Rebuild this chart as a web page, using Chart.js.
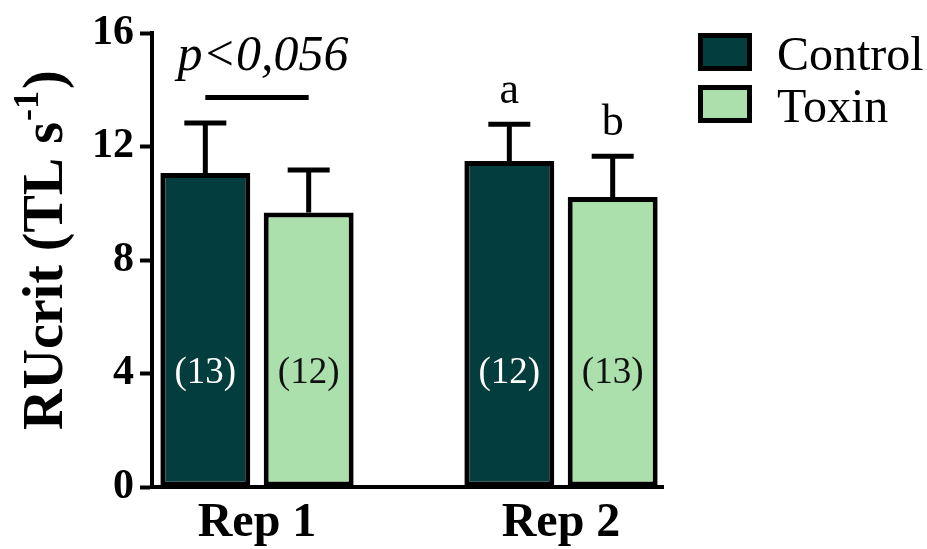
<!DOCTYPE html>
<html>
<head>
<meta charset="utf-8">
<script src="https://cdn.jsdelivr.net/npm/chart.js@4.4.1/dist/chart.umd.min.js"></script>
<style>
  html, body { margin: 0; padding: 0; background: #ffffff; }
  canvas { display: block; }
</style>
</head>
<body>
<canvas id="chart" width="927" height="549"></canvas>
<script>
// Group labels and their positions on the x axis
const categories = ['Rep 1', 'Rep 2'];
const groupPositions = [1, 2];

// RUcrit means and standard errors (TL s-1)
const controlMeans = [11.07, 11.49];
const controlSEM = [1.76, 1.29];
const toxinMeans = [9.67, 10.22];
const toxinSEM = [1.50, 1.44];

// Sample sizes shown inside the bars
const controlN = [13, 12];
const toxinN = [12, 13];

// Significance letters above the error bars
const controlLetters = ['', 'a'];
const toxinLetters = ['', 'b'];

// y axis ticks
const yTicks = [0, 4, 8, 12, 16];

const SERIF = "'Liberation Serif', 'Times New Roman', serif";
const CONTROL_COLOR = '#033d3d';
const TOXIN_COLOR = '#abdfab';

const toPoints = (values) => values.map((v, i) => ({ x: groupPositions[i], y: v }));

// Error bars, n labels, letters, p-value bracket, axis title and legend
const annotations = {
  id: 'annotations',
  afterDatasetsDraw(chart) {
    const ctx = chart.ctx;
    const y = chart.scales.y;
    ctx.save();
    chart.data.datasets.forEach((ds, di) => {
      const meta = chart.getDatasetMeta(di);
      meta.data.forEach((bar, i) => {
        const top = y.getPixelForValue(ds.data[i].y + ds.sem[i]);
        ctx.strokeStyle = '#000';
        ctx.lineWidth = 5;
        ctx.lineCap = 'butt';
        ctx.beginPath();
        ctx.moveTo(bar.x, bar.y);
        ctx.lineTo(bar.x, top);
        ctx.moveTo(bar.x - 21, top);
        ctx.lineTo(bar.x + 21, top);
        ctx.stroke();

        // n inside the bar
        ctx.fillStyle = ds.countColor;
        ctx.font = '37px ' + SERIF;
        ctx.textAlign = 'center';
        ctx.textBaseline = 'middle';
        ctx.fillText('(' + ds.counts[i] + ')', bar.x, y.getPixelForValue(4));

        // letter above the error bar
        if (ds.letters[i]) {
          ctx.fillStyle = '#000';
          ctx.font = '44px ' + SERIF;
          ctx.textBaseline = 'alphabetic';
          ctx.fillText(ds.letters[i], bar.x, top - 21);
        }
      });
    });

    // p-value bracket over the first group
    const a = chart.getDatasetMeta(0).data[0];
    const b = chart.getDatasetMeta(1).data[0];
    const lineY = y.getPixelForValue(13.73);
    ctx.strokeStyle = '#000';
    ctx.lineWidth = 5;
    ctx.beginPath();
    ctx.moveTo(a.x, lineY);
    ctx.lineTo(b.x, lineY);
    ctx.stroke();
    ctx.fillStyle = '#000';
    ctx.font = 'italic 50px ' + SERIF;
    ctx.textAlign = 'center';
    ctx.textBaseline = 'alphabetic';
    ctx.fillText('p<0,056', (a.x + b.x) / 2 + 6, y.getPixelForValue(14.7));
    ctx.restore();
  },
  afterDraw(chart) {
    const ctx = chart.ctx;
    const area = chart.chartArea;

    // y axis title with a superscript exponent
    ctx.save();
    ctx.translate(62, area.bottom - 57);
    ctx.rotate(-Math.PI / 2);
    ctx.fillStyle = '#000';
    ctx.textAlign = 'left';
    ctx.textBaseline = 'alphabetic';
    const main = 'bold 56px ' + SERIF;
    const sup = 'bold 36px ' + SERIF;
    let cx = 0;
    ctx.font = main;
    ctx.fillText('RUcrit (TL s', cx, 0);
    cx += ctx.measureText('RUcrit (TL s').width + 1;
    ctx.font = sup;
    ctx.fillText('-1', cx, -24);
    cx += ctx.measureText('-1').width + 2;
    ctx.font = main;
    ctx.fillText(')', cx, 0);
    ctx.restore();

    // legend to the right of the plot
    const items = [
      { label: 'Control', color: CONTROL_COLOR },
      { label: 'Toxin', color: TOXIN_COLOR }
    ];
    ctx.save();
    items.forEach((it, i) => {
      const top = 33 + i * 52;
      ctx.fillStyle = it.color;
      ctx.fillRect(700.5, top + 2.5, 49, 33);
      ctx.strokeStyle = '#000';
      ctx.lineWidth = 5;
      ctx.strokeRect(700.5, top + 2.5, 49, 33);
      ctx.fillStyle = '#000';
      ctx.font = '48px ' + SERIF;
      ctx.textAlign = 'left';
      ctx.textBaseline = 'alphabetic';
      ctx.fillText(it.label, 777, top + 37);
    });
    ctx.restore();
  }
};

new Chart(document.getElementById('chart'), {
  type: 'bar',
  data: {
    datasets: [
      {
        label: 'Control',
        data: toPoints(controlMeans),
        sem: controlSEM,
        counts: controlN,
        letters: controlLetters,
        countColor: '#ffffff',
        backgroundColor: CONTROL_COLOR,
        borderColor: '#000000',
        borderWidth: 5,
        borderSkipped: false
      },
      {
        label: 'Toxin',
        data: toPoints(toxinMeans),
        sem: toxinSEM,
        counts: toxinN,
        letters: toxinLetters,
        countColor: '#111111',
        backgroundColor: TOXIN_COLOR,
        borderColor: '#000000',
        borderWidth: 5,
        borderSkipped: false
      }
    ]
  },
  options: {
    responsive: false,
    animation: false,
    devicePixelRatio: 1,
    categoryPercentage: 0.68,
    barPercentage: 0.87,
    layout: { padding: { top: 33, right: 264, left: 0, bottom: 0 } },
    plugins: {
      legend: { display: false },
      tooltip: { enabled: false }
    },
    scales: {
      x: {
        type: 'linear',
        offset: false,
        min: 0.6546,
        max: 2.3355,
        afterBuildTicks: (scale) => { scale.ticks = groupPositions.map(v => ({ value: v })); },
        afterFit: (scale) => { scale.height = 62; },
        grid: { display: false, drawTicks: false },
        border: { display: true, color: '#000', width: 4 },
        ticks: {
          padding: 8,
          color: '#000',
          font: { family: SERIF, size: 48, weight: 'bold' },
          callback: (v, i) => categories[i]
        }
      },
      y: {
        min: 0,
        max: 16,
        afterBuildTicks: (scale) => { scale.ticks = yTicks.map(v => ({ value: v })); },
        afterFit: (scale) => { scale.width = 152; },
        grid: { display: true, drawOnChartArea: false, drawTicks: true, tickLength: 12, tickColor: '#000', tickWidth: 4 },
        border: { display: true, color: '#000', width: 4 },
        ticks: {
          padding: 6,
          color: '#000',
          font: { family: SERIF, size: 42, weight: 'bold' }
        },
        title: { display: false }
      }
    }
  },
  plugins: [annotations]
});
</script>
</body>
</html>
